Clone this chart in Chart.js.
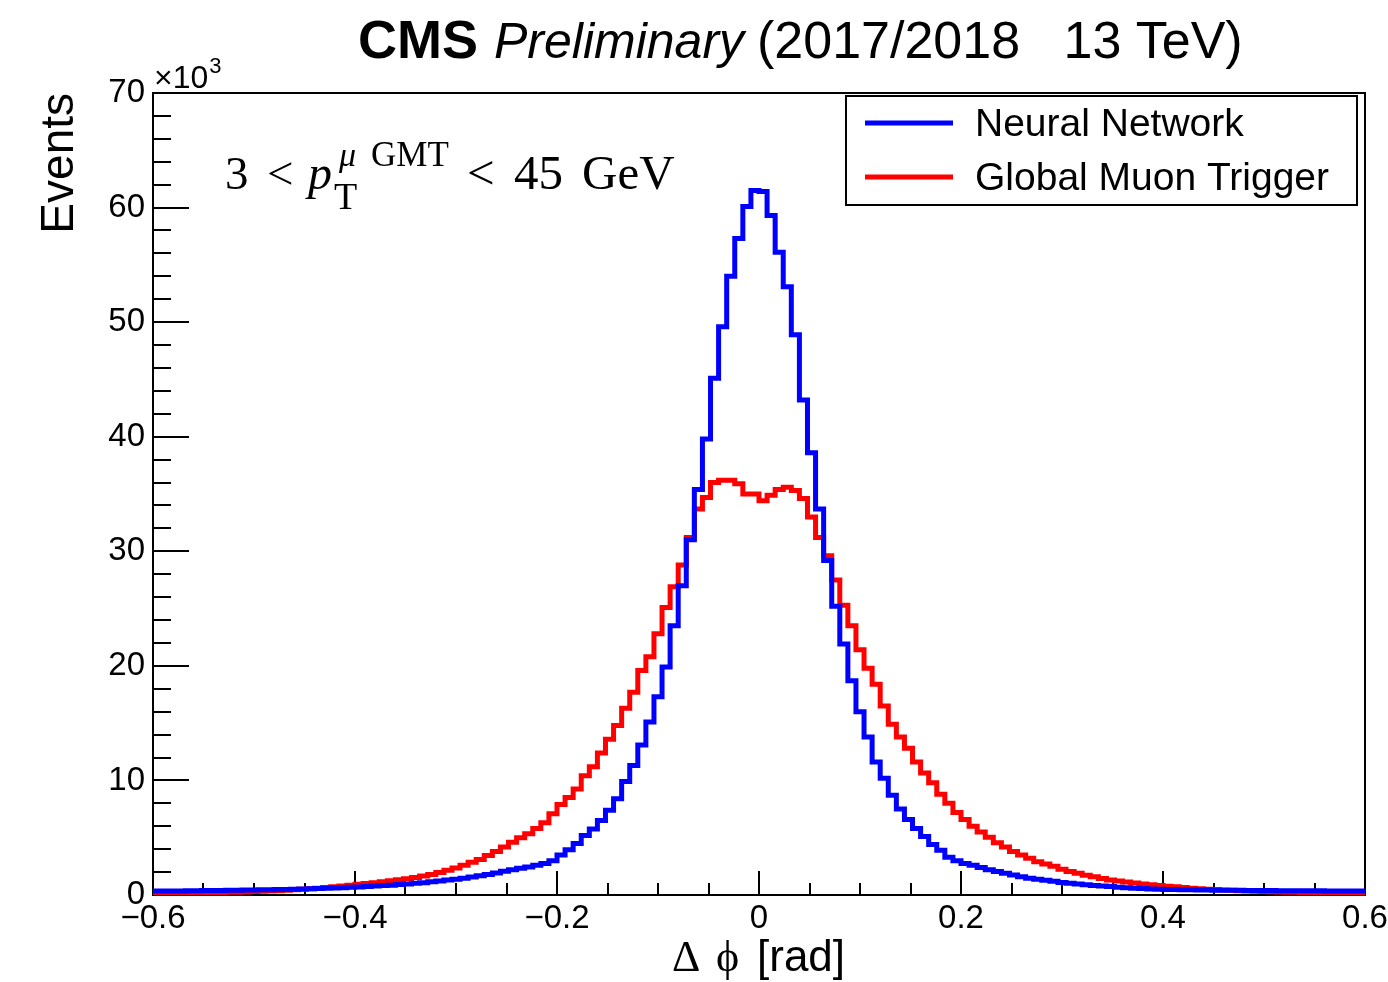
<!DOCTYPE html>
<html>
<head>
<meta charset="utf-8">
<script src="https://cdn.jsdelivr.net/npm/chart.js@4.4.1/dist/chart.umd.min.js"></script>
<style>
    body { margin: 0; background: #fff; }
    #dphi-chart { display: block; }
</style>
</head>
<body>
<canvas id="dphi-chart" width="1388" height="982"></canvas>
<script>
// binning of the delta phi histogram
var nBins = 150;
var xLow = -0.6;
var xHigh = 0.6;

// events per bin, in units of 10^3
var nnValues = [
    0.34, 0.35, 0.36, 0.36, 0.37, 0.38, 0.39, 0.40, 0.40, 0.41,
    0.42, 0.43, 0.44, 0.45, 0.46, 0.48, 0.49, 0.51, 0.52, 0.54,
    0.56, 0.58, 0.61, 0.64, 0.67, 0.70, 0.74, 0.78, 0.82, 0.86,
    0.91, 0.96, 1.02, 1.08, 1.15, 1.22, 1.30, 1.38, 1.47, 1.57,
    1.68, 1.80, 1.93, 2.07, 2.20, 2.33, 2.45, 2.60, 2.75, 3.00,
    3.50, 3.95, 4.50, 5.20, 5.75, 6.50, 7.40, 8.40, 9.90, 11.3,
    13.1, 15.1, 17.3, 19.9, 23.5, 27.0, 31.0, 35.4, 39.8, 45.1,
    49.6, 54.0, 57.3, 60.1, 61.5, 61.4, 59.3, 56.1, 53.1, 48.9,
    43.2, 38.6, 33.7, 29.2, 25.2, 21.9, 18.7, 16.0, 13.8, 11.6,
    10.2, 8.70, 7.50, 6.60, 5.80, 5.10, 4.40, 3.90, 3.30, 3.00,
    2.75, 2.60, 2.40, 2.20, 2.05, 1.90, 1.75, 1.60, 1.47, 1.37,
    1.28, 1.20, 1.10, 1.02, 0.96, 0.90, 0.84, 0.79, 0.74, 0.68,
    0.64, 0.60, 0.56, 0.53, 0.50, 0.48, 0.47, 0.46, 0.45, 0.44,
    0.43, 0.42, 0.42, 0.41, 0.41, 0.40, 0.40, 0.39, 0.39, 0.38,
    0.38, 0.38, 0.37, 0.37, 0.37, 0.36, 0.36, 0.36, 0.35, 0.35
];
var gmtValues = [
    0.12, 0.13, 0.14, 0.15, 0.16, 0.17, 0.18, 0.20, 0.21, 0.23,
    0.25, 0.27, 0.30, 0.32, 0.35, 0.38, 0.42, 0.46, 0.50, 0.55,
    0.60, 0.66, 0.72, 0.79, 0.86, 0.93, 1.00, 1.08, 1.16, 1.24,
    1.33, 1.42, 1.52, 1.65, 1.80, 1.97, 2.15, 2.35, 2.60, 2.85,
    3.10, 3.45, 3.80, 4.20, 4.60, 5.00, 5.35, 5.80, 6.30, 7.10,
    7.90, 8.50, 9.25, 10.4, 11.2, 12.4, 13.6, 14.8, 16.3, 17.7,
    19.6, 20.8, 22.8, 25.1, 26.9, 28.8, 31.2, 33.7, 34.7, 36.0,
    36.2, 36.2, 35.9, 35.0, 35.0, 34.4, 34.9, 35.4, 35.6, 35.3,
    34.6, 33.0, 31.2, 29.6, 27.5, 25.3, 23.5, 21.4, 19.8, 18.4,
    16.5, 14.9, 13.8, 12.8, 11.6, 10.65, 9.80, 8.80, 8.00, 7.20,
    6.60, 6.00, 5.50, 5.05, 4.55, 4.20, 3.80, 3.50, 3.20, 2.90,
    2.70, 2.50, 2.25, 2.05, 1.90, 1.72, 1.60, 1.45, 1.32, 1.22,
    1.13, 1.04, 0.96, 0.90, 0.83, 0.77, 0.71, 0.65, 0.60, 0.55,
    0.51, 0.47, 0.44, 0.41, 0.38, 0.35, 0.33, 0.31, 0.29, 0.27,
    0.25, 0.23, 0.22, 0.21, 0.20, 0.19, 0.18, 0.17, 0.16, 0.15
];

var seriesLabels = ["Neural Network", "Global Muon Trigger"];
var seriesColors = ["#0000ff", "#ff0000"];

var binEdges = [];
for (var i = 0; i <= nBins; i++) {
    binEdges.push(xLow + i * (xHigh - xLow) / nBins);
}

// one point per lower bin edge, plus the upper edge of the last bin
function toSteps(values) {
    var pts = [];
    for (var i = 0; i < values.length; i++) {
        pts.push({ x: binEdges[i], y: values[i] });
    }
    pts.push({ x: binEdges[values.length], y: values[values.length - 1] });
    return pts;
}

var sans = "'Liberation Sans', Arial, Helvetica, sans-serif";
var serif = "'Liberation Serif', 'Times New Roman', serif";

// ROOT style frame with ticks pointing inwards
var framePlugin = {
    id: 'frameTicks',
    beforeDatasetsDraw: function (chart) {
        var ctx = chart.ctx;
        var a = chart.chartArea;
        var xs = chart.scales.x;
        var ys = chart.scales.y;
        ctx.save();
        ctx.strokeStyle = '#000';
        ctx.lineWidth = 2;
        ctx.strokeRect(a.left, a.top, a.right - a.left, a.bottom - a.top);
        ctx.beginPath();
        for (var v = 0; v <= 70; v += 2) {
            var py = Math.round(ys.getPixelForValue(v));
            var len = (v % 10 === 0) ? 36 : 18;
            ctx.moveTo(a.left, py);
            ctx.lineTo(a.left + len, py);
        }
        for (var k = -12; k <= 12; k++) {
            var px = Math.round(xs.getPixelForValue(k * 0.05));
            var l = (k % 4 === 0) ? 24 : 12;
            ctx.moveTo(px, a.bottom);
            ctx.lineTo(px, a.bottom - l);
        }
        ctx.stroke();
        ctx.restore();
    }
};

var textPlugin = {
    id: 'rootTexts',
    afterDraw: function (chart) {
        var ctx = chart.ctx;
        var a = chart.chartArea;
        ctx.save();
        ctx.fillStyle = '#000';
        ctx.textBaseline = 'alphabetic';
        ctx.textAlign = 'left';

        //Title
        ctx.font = 'bold 54px ' + sans;
        ctx.fillText('CMS', 358, 58);
        ctx.font = 'italic 50px ' + sans;
        ctx.fillText('Preliminary', 494, 58);
        ctx.font = '52px ' + sans;
        ctx.fillText('(2017/2018   13 TeV)', 757, 58);

        //exponent of the y axis
        ctx.font = '32px ' + sans;
        ctx.fillText('\u00d710', a.left + 1, 88);
        var ew = ctx.measureText('\u00d710').width;
        ctx.font = '22px ' + sans;
        ctx.fillText('3', a.left + ew + 2, 73);

        //pT range
        ctx.font = '47px ' + serif;
        ctx.fillText('3', 225, 189);
        ctx.fillText('<', 267, 189);
        ctx.font = 'italic 48px ' + serif;
        ctx.fillText('p', 308, 189);
        ctx.font = '38px ' + serif;
        ctx.fillText('T', 334, 209);
        ctx.font = 'italic 34px ' + serif;
        ctx.fillText('\u03bc', 339, 166);
        ctx.font = '35px ' + serif;
        ctx.fillText('GMT', 371, 166);
        ctx.font = '49px ' + serif;
        ctx.fillText('<', 467, 189);
        ctx.fillText('45', 514, 189);
        ctx.fillText('GeV', 582, 189);

        //legend
        ctx.lineWidth = 2;
        ctx.strokeStyle = '#000';
        ctx.strokeRect(846, 96, 511, 109);
        var ds = chart.data.datasets;
        var rows = [123, 177];
        ctx.font = '39px ' + sans;
        for (var i = 0; i < ds.length; i++) {
            ctx.beginPath();
            ctx.lineWidth = 5;
            ctx.strokeStyle = ds[i].borderColor;
            ctx.moveTo(865, rows[i]);
            ctx.lineTo(953, rows[i]);
            ctx.stroke();
            ctx.fillText(ds[i].label, 975, rows[i] + 13);
        }

        //axis titles
        ctx.font = '44px ' + serif;
        ctx.fillText('\u0394', 672, 971);
        ctx.fillText('\u03d5', 716, 971);
        ctx.font = '44px ' + sans;
        ctx.fillText('[rad]', 757, 971);

        ctx.translate(73, a.top);
        ctx.rotate(-Math.PI / 2);
        ctx.textAlign = 'right';
        ctx.font = '46px ' + sans;
        ctx.fillText('Events', 0, 0);
        ctx.restore();
    }
};

function xTickLabel(value) {
    if (Math.abs(value) < 1e-9) return '0';
    return value.toFixed(1).replace('-', '\u2212');
}

new Chart(document.getElementById("dphi-chart"), {
    type: 'line',
    data: {
        datasets: [
            {
                label: seriesLabels[0],
                data: toSteps(nnValues),
                borderColor: seriesColors[0],
                borderWidth: 5,
                stepped: 'before',
                pointRadius: 0,
                fill: false,
                borderJoinStyle: 'miter'
            },
            {
                label: seriesLabels[1],
                data: toSteps(gmtValues),
                borderColor: seriesColors[1],
                borderWidth: 5,
                stepped: 'before',
                pointRadius: 0,
                fill: false,
                borderJoinStyle: 'miter'
            }
        ]
    },
    options: {
        responsive: false,
        animation: false,
        devicePixelRatio: 1,
        layout: { padding: { left: 0, top: 93, right: 23, bottom: 0 } },
        plugins: {
            legend: { display: false },
            tooltip: { enabled: false }
        },
        scales: {
            x: {
                type: 'linear',
                min: xLow,
                max: xHigh,
                afterFit: function (scale) {
                    scale.height = 87;
                    scale.paddingLeft = 0;
                    scale.paddingRight = 0;
                },
                grid: { display: false, drawTicks: false },
                border: { display: false },
                ticks: {
                    stepSize: 0.2,
                    padding: 4,
                    maxRotation: 0,
                    color: '#000',
                    font: { family: sans, size: 33 },
                    callback: xTickLabel
                }
            },
            y: {
                min: 0,
                max: 70,
                afterFit: function (scale) { scale.width = 153; },
                grid: { display: false, drawTicks: false },
                border: { display: false },
                ticks: {
                    stepSize: 10,
                    padding: 8,
                    color: '#000',
                    font: { family: sans, size: 33 }
                }
            }
        }
    },
    plugins: [framePlugin, textPlugin]
});
</script>
</body>
</html>
